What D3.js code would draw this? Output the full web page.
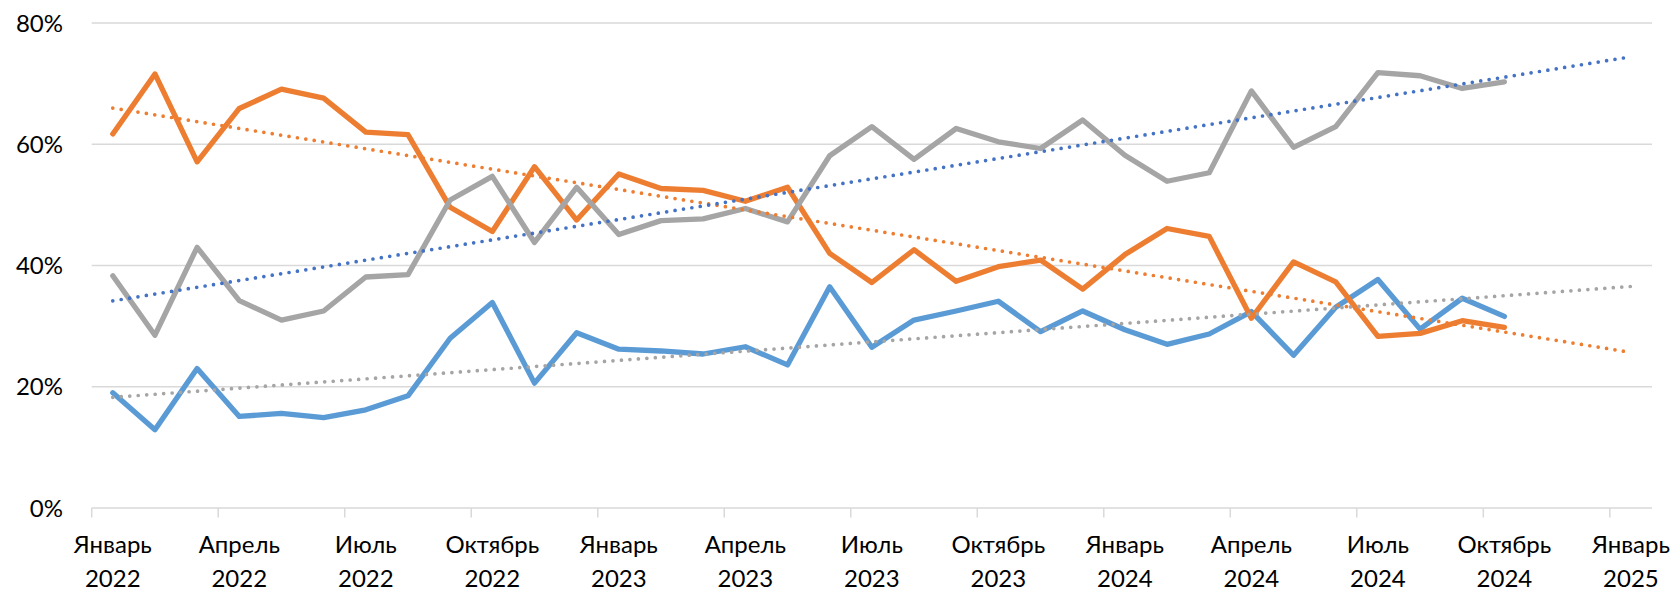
<!DOCTYPE html>
<html>
<head>
<meta charset="utf-8">
<script src="https://cdn.jsdelivr.net/npm/d3@7"></script>
<style>
  body { margin: 0; background: #fff; }
  text { font-family: Lato, "Open Sans", sans-serif; fill: #000; }
</style>
</head>
<body>
<svg id="chart" width="1680" height="593"></svg>
<script>
// monthly values, Jan 2022 .. Oct 2024 (index 0..33)
var blueSeries = [19.0, 12.9, 23.0, 15.1, 15.6, 14.9, 16.2, 18.5, 28.0, 33.9, 20.6, 28.9,
  26.2, 25.9, 25.4, 26.6, 23.6, 36.5, 26.5, 31.0, 32.5, 34.1, 29.1, 32.5,
  29.4, 27.0, 28.7, 32.4, 25.2, 33.1, 37.7, 29.5, 34.6, 31.6];
var orangeSeries = [61.7, 71.6, 57.1, 65.9, 69.1, 67.6, 62.0, 61.6, 49.6, 45.6, 56.3, 47.5,
  55.1, 52.7, 52.4, 50.6, 52.9, 42.0, 37.2, 42.6, 37.4, 39.8, 40.9, 36.1,
  41.8, 46.1, 44.8, 31.3, 40.6, 37.3, 28.3, 28.8, 30.9, 29.8];
var greySeries = [38.3, 28.5, 43.0, 34.2, 31.0, 32.5, 38.1, 38.5, 50.8, 54.7, 43.8, 52.9,
  45.1, 47.4, 47.7, 49.4, 47.2, 58.1, 62.9, 57.5, 62.6, 60.4, 59.3, 64.0,
  58.2, 53.9, 55.3, 68.8, 59.5, 62.9, 71.8, 71.3, 69.2, 70.3];

// axis: 37 months Jan 2022 .. Jan 2025, labelled every 3 months
var tickMonths = ["Январь", "Апрель", "Июль", "Октябрь", "Январь", "Апрель", "Июль", "Октябрь",
  "Январь", "Апрель", "Июль", "Октябрь", "Январь"];
var tickYears = ["2022", "2022", "2022", "2022", "2023", "2023", "2023", "2023",
  "2024", "2024", "2024", "2024", "2025"];
var yTicks = [0, 20, 40, 60, 80];

var monthCount = 37;
var forecastEnd = 36; // trend lines run up to Jan 2025

var svg = d3.select('#chart');

var x = d3.scaleLinear().domain([-0.5, monthCount - 0.5]).range([91.7, 1652]);
var y = d3.scaleLinear().domain([0, 80]).range([508, 23]);

// gridlines
svg.append('g')
  .selectAll('line')
  .data(yTicks)
  .enter()
  .append('line')
  .attr('x1', x(-0.5))
  .attr('x2', x(monthCount - 0.5))
  .attr('y1', function(d) { return y(d) })
  .attr('y2', function(d) { return y(d) })
  .attr('stroke', '#d9d9d9')
  .attr('stroke-width', 1.5);

// y labels
svg.append('g')
  .selectAll('text')
  .data(yTicks)
  .enter()
  .append('text')
  .attr('x', 63)
  .attr('y', function(d) { return y(d) + 8.5 })
  .attr('text-anchor', 'end')
  .style('font-size', '24px')
  .text(function(d) { return d + '%' });

// x tick marks at category boundaries
svg.append('g')
  .selectAll('line')
  .data(tickMonths.map(function(m, i) { return i * 3 - 0.5 }))
  .enter()
  .append('line')
  .attr('x1', function(d) { return x(d) })
  .attr('x2', function(d) { return x(d) })
  .attr('y1', 508)
  .attr('y2', 517.5)
  .attr('stroke', '#d9d9d9')
  .attr('stroke-width', 1.5);

// x labels, two lines each
var xLabels = svg.append('g')
  .selectAll('text')
  .data(tickMonths)
  .enter()
  .append('text')
  .attr('text-anchor', 'middle')
  .style('font-size', '24px')
  .attr('transform', function(d, i) { return 'translate(' + x(i * 3) + ',0)' });
xLabels.append('tspan').attr('x', 0).attr('y', 553).text(function(d) { return d });
xLabels.append('tspan').attr('x', 0).attr('y', 587).text(function(d, i) { return tickYears[i] });

// series
var line = d3.line()
  .x(function(d, i) { return x(i) })
  .y(function(d) { return y(d) });

var series = [
  { values: blueSeries, color: '#5b9bd5', trendColor: '#a5a5a5' },
  { values: orangeSeries, color: '#ed7d31', trendColor: '#ed7d31' },
  { values: greySeries, color: '#a5a5a5', trendColor: '#4472c4' }
];

svg.append('g')
  .selectAll('path')
  .data(series)
  .enter()
  .append('path')
  .attr('d', function(s) { return line(s.values) })
  .attr('fill', 'none')
  .attr('stroke', function(s) { return s.color })
  .attr('stroke-width', 5.3)
  .attr('stroke-linejoin', 'round')
  .attr('stroke-linecap', 'round');

// linear trend lines (least squares, as in the source spreadsheet)
function trend(values) {
  var mx = d3.mean(values, function(v, i) { return i });
  var my = d3.mean(values);
  var sxy = d3.sum(values, function(v, i) { return (i - mx) * (v - my) });
  var sxx = d3.sum(values, function(v, i) { return (i - mx) * (i - mx) });
  var b = sxy / sxx;
  var a = my - b * mx;
  return [[0, a], [forecastEnd, a + b * forecastEnd]];
}

svg.append('g')
  .selectAll('line')
  .data(series)
  .enter()
  .append('line')
  .each(function(s) {
    var t = trend(s.values);
    d3.select(this)
      .attr('x1', x(t[0][0])).attr('y1', y(t[0][1]))
      .attr('x2', x(t[1][0])).attr('y2', y(t[1][1]));
  })
  .attr('stroke', function(s) { return s.trendColor })
  .attr('stroke-width', 3.7)
  .attr('stroke-linecap', 'round')
  .attr('stroke-dasharray', '0 8.5');
</script>
</body>
</html>
